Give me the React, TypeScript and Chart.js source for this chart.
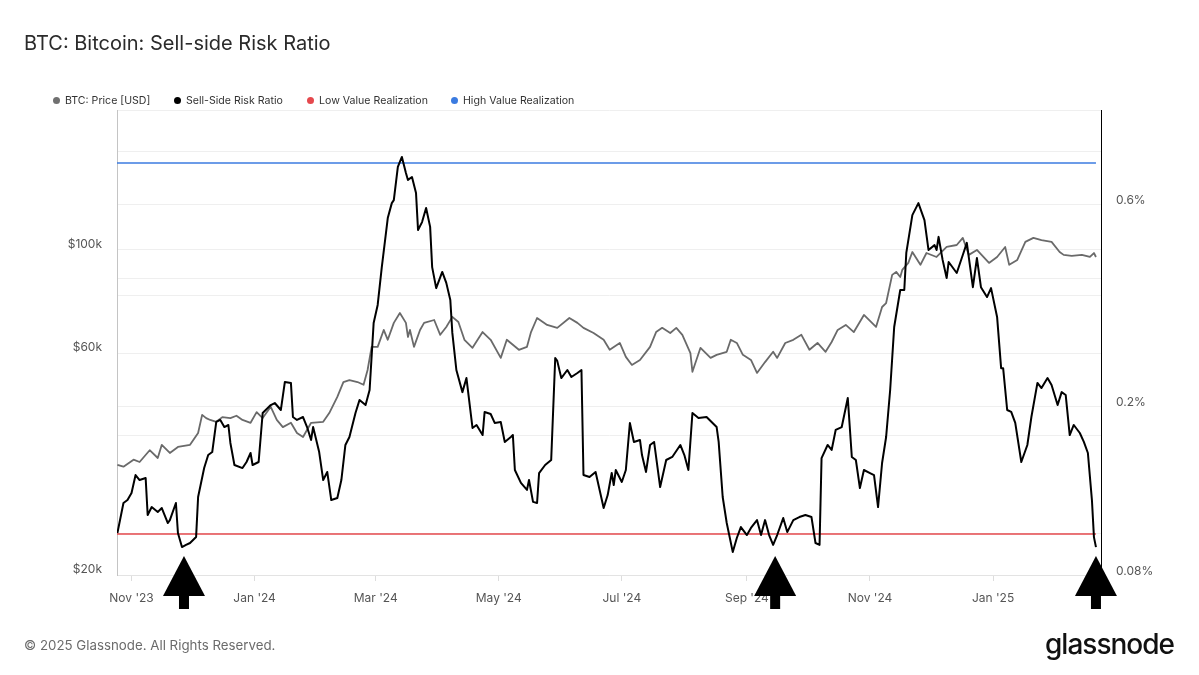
import React, { useEffect, useRef } from "react";
import { Chart, registerables } from "chart.js";

Chart.register(...registerables);

// ---- X axis (days since 1 Nov 2023) ----
const xMinDay = -7.2;
const xMaxDay = 480.5;
const monthTickDays = [0, 61, 121, 182, 243, 305, 366, 427];
const monthTickLabels = ["Nov '23", "Jan '24", "Mar '24", "May '24", "Jul '24", "Sep '24", "Nov '24", "Jan '25"];

// ---- Y axes ----
const priceTicks = [20000, 40000, 60000, 80000, 100000, 200000];
const priceTickLabels = ["$20k", "", "$60k", "", "$100k", ""];
const ratioTicks = [0.08, 0.1, 0.2, 0.4, 0.6, 0.8];
const ratioTickLabels = ["0.08%", "", "0.2%", "", "0.6%", ""];

// ---- BTC price (USD) ----
const priceDays = [-7, -4, 1, 4, 9, 13, 15, 19, 23, 29, 33, 35, 37, 39, 42, 45, 49, 52, 55, 59, 62, 65, 69, 72, 75, 79, 82, 85, 89, 95, 98, 102, 105, 108, 112, 115, 117, 119, 122, 125, 127, 130, 133, 136, 137, 138, 140, 143, 145, 150, 153, 156, 159, 162, 165, 169, 174, 178, 183, 186, 192, 196, 198, 201, 206, 211, 217, 221, 224, 229, 234, 237, 242, 245, 248, 252, 257, 260, 263, 267, 270, 273, 277, 278, 282, 287, 290, 295, 297, 300, 303, 307, 310, 314, 318, 320, 324, 328, 332, 336, 340, 344, 347, 350, 354, 358, 363, 369, 372, 374, 377, 379, 381, 382, 385, 387, 391, 394, 399, 404, 409, 412, 415, 419, 425, 429, 433, 435, 439, 443, 447, 451, 456, 460, 462, 466, 471, 475, 477, 478];
const priceValues = [34500, 34200, 35400, 35000, 37100, 35700, 38100, 36600, 37700, 38100, 40400, 44200, 43500, 43100, 42700, 43700, 43500, 44000, 43100, 42500, 44800, 43500, 46000, 43100, 41600, 42500, 40400, 39600, 42500, 42700, 44600, 48300, 52000, 52500, 52000, 51300, 55200, 61900, 61900, 67300, 64100, 69700, 73200, 69700, 65000, 67300, 61900, 67300, 69700, 70700, 65700, 68300, 71800, 70000, 64100, 61600, 66600, 64100, 58600, 64100, 61000, 61900, 66600, 71400, 69000, 68000, 71400, 69700, 68000, 66300, 64100, 61000, 63100, 58900, 56600, 58000, 61900, 66600, 68000, 66300, 68000, 65700, 60000, 54700, 61600, 58600, 59500, 60400, 64100, 63100, 59500, 58000, 54400, 57400, 60400, 58600, 63100, 64100, 65700, 61000, 63100, 60400, 63400, 67300, 69000, 66600, 72500, 68300, 75400, 76900, 88400, 89700, 87500, 90600, 93800, 99000, 92900, 98500, 96600, 101500, 102500, 106200, 97600, 100000, 93800, 96600, 101500, 92900, 95200, 104100, 106200, 105000, 104100, 99000, 97600, 97100, 97600, 96600, 98500, 96600];

// ---- Sell-side risk ratio (%) ----
const ssrDays = [-7, -4, -2, 0, 2, 4, 7, 8, 10, 13, 15, 18, 19, 22, 23, 25, 27, 29, 32, 33, 36, 38, 40, 42, 44, 46, 48, 49, 51, 55, 57, 59, 60, 63, 65, 69, 71, 74, 76, 79, 80, 82, 85, 87, 89, 90, 93, 95, 97, 99, 102, 104, 106, 108, 111, 113, 116, 118, 120, 122, 124, 127, 129, 130, 132, 134, 136, 137, 139, 141, 142, 144, 146, 148, 149, 151, 154, 156, 158, 159, 161, 164, 166, 169, 171, 174, 175, 178, 180, 183, 185, 188, 189, 190, 193, 196, 197, 199, 201, 202, 205, 208, 210, 211, 213, 216, 218, 221, 223, 224, 227, 230, 232, 234, 236, 238, 239, 240, 243, 245, 247, 249, 252, 253, 255, 257, 259, 262, 265, 268, 272, 274, 276, 278, 281, 285, 288, 290, 291, 293, 295, 298, 300, 302, 305, 307, 310, 312, 314, 316, 318, 320, 323, 325, 328, 331, 334, 337, 339, 341, 342, 345, 347, 349, 352, 355, 357, 359, 361, 363, 366, 368, 370, 372, 374, 376, 378, 381, 383, 384, 387, 390, 393, 395, 398, 399, 400, 402, 404, 405, 409, 412, 414, 417, 419, 421, 424, 426, 429, 431, 432, 434, 436, 438, 441, 444, 446, 449, 451, 454, 456, 459, 461, 463, 465, 467, 470, 472, 474, 476, 477, 478];
const ssrValues = [0.1005, 0.1183, 0.1202, 0.1249, 0.1377, 0.134, 0.1355, 0.1108, 0.1157, 0.1127, 0.1151, 0.1061, 0.1078, 0.1183, 0.1005, 0.0931, 0.0942, 0.0952, 0.0983, 0.1222, 0.143, 0.1535, 0.156, 0.1837, 0.1857, 0.1787, 0.1807, 0.1639, 0.1454, 0.143, 0.1478, 0.1552, 0.1454, 0.1478, 0.1929, 0.2014, 0.2036, 0.196, 0.2283, 0.2271, 0.1887, 0.1857, 0.1887, 0.1787, 0.1666, 0.1787, 0.156, 0.134, 0.14, 0.1202, 0.1215, 0.134, 0.1621, 0.1693, 0.1929, 0.207, 0.2014, 0.2185, 0.3145, 0.3468, 0.424, 0.556, 0.603, 0.613, 0.734, 0.775, 0.71, 0.684, 0.695, 0.637, 0.521, 0.544, 0.587, 0.53, 0.426, 0.38, 0.415, 0.391, 0.3563, 0.298, 0.2436, 0.216, 0.2332, 0.1778, 0.1807, 0.1711, 0.1939, 0.1918, 0.1827, 0.1837, 0.1648, 0.1693, 0.1711, 0.1415, 0.1319, 0.127, 0.134, 0.119, 0.1183, 0.1392, 0.1454, 0.1494, 0.26, 0.256, 0.2332, 0.2436, 0.2345, 0.2397, 0.2436, 0.1377, 0.1362, 0.14, 0.127, 0.1151, 0.1235, 0.1392, 0.1304, 0.1415, 0.1326, 0.1415, 0.1827, 0.1648, 0.1666, 0.1535, 0.14, 0.1621, 0.1648, 0.129, 0.1494, 0.1519, 0.1621, 0.1535, 0.1415, 0.1929, 0.1877, 0.1887, 0.1827, 0.1787, 0.1648, 0.1222, 0.1061, 0.0906, 0.0978, 0.1038, 0.0994, 0.1033, 0.1078, 0.0994, 0.1078, 0.0994, 0.0942, 0.0994, 0.109, 0.101, 0.1078, 0.1096, 0.1108, 0.1096, 0.0952, 0.0942, 0.151, 0.1621, 0.1578, 0.1759, 0.1787, 0.2092, 0.1519, 0.1494, 0.1283, 0.1415, 0.1392, 0.1377, 0.1157, 0.147, 0.1693, 0.2185, 0.3077, 0.3762, 0.3762, 0.46, 0.565, 0.603, 0.55, 0.4675, 0.48, 0.4675, 0.502, 0.443, 0.4015, 0.438, 0.4126, 0.455, 0.486, 0.382, 0.4475, 0.382, 0.362, 0.38, 0.325, 0.246, 0.246, 0.196, 0.194, 0.1827, 0.1478, 0.1621, 0.1887, 0.2271, 0.2209, 0.2332, 0.2245, 0.2014, 0.216, 0.2127, 0.1711, 0.1807, 0.173, 0.1648, 0.1552, 0.1202, 0.0983, 0.0931];

// ---- Thresholds (%) ----
const bandDays = [-7.2, 478];
const lowValueRealization = 0.1;
const highValueRealization = 0.75;

// ---- Annotation arrows (days) ----
const arrowDays = [26, 319, 478];

const legendItems = [
  { label: "BTC: Price [USD]", color: "#707070", left: 53 },
  { label: "Sell-Side Risk Ratio", color: "#000000", left: 174 },
  { label: "Low Value Realization", color: "#e5484d", left: 307 },
  { label: "High Value Realization", color: "#3b7be0", left: 451 },
];

const arrowPlugin = {
  id: "arrowAnnotations",
  afterDraw(chart: any) {
    const { ctx, chartArea, scales } = chart;
    ctx.save();
    ctx.fillStyle = "#000";
    arrowDays.forEach((d) => {
      const x = scales.x.getPixelForValue(d);
      const tip = chartArea.bottom - 19;
      const base = chartArea.bottom + 21;
      ctx.beginPath();
      ctx.moveTo(x, tip);
      ctx.lineTo(x + 21, base);
      ctx.lineTo(x - 21, base);
      ctx.closePath();
      ctx.fill();
      ctx.fillRect(x - 5, base - 1, 10, 14);
    });
    ctx.restore();
  },
};

export default function App() {
  const ref = useRef<HTMLCanvasElement>(null);

  useEffect(() => {
    const prevMargin = document.body.style.margin;
    document.body.style.margin = "0";
    const tickFont = { family: "Inter", size: 12 };
    const chart = new Chart(ref.current as HTMLCanvasElement, {
      type: "line",
      data: {
        datasets: [
          {
            label: "Sell-Side Risk Ratio",
            data: ssrDays.map((d, i) => ({ x: d, y: ssrValues[i] })),
            yAxisID: "yRatio",
            borderColor: "#000000",
            borderWidth: 2,
            pointRadius: 0,
            tension: 0,
            borderJoinStyle: "round",
          },
          {
            label: "Low Value Realization",
            data: bandDays.map((d) => ({ x: d, y: lowValueRealization })),
            yAxisID: "yRatio",
            borderColor: "#e5484d",
            borderWidth: 1.5,
            pointRadius: 0,
          },
          {
            label: "High Value Realization",
            data: bandDays.map((d) => ({ x: d, y: highValueRealization })),
            yAxisID: "yRatio",
            borderColor: "#3b7be0",
            borderWidth: 1.5,
            pointRadius: 0,
          },
          {
            label: "BTC: Price [USD]",
            data: priceDays.map((d, i) => ({ x: d, y: priceValues[i] })),
            yAxisID: "yPrice",
            borderColor: "#6a6a6a",
            borderWidth: 1.8,
            pointRadius: 0,
            tension: 0,
            borderJoinStyle: "round",
          },
        ],
      },
      options: {
        responsive: false,
        animation: false,
        devicePixelRatio: 1,
        layout: { padding: { top: 110, left: 0, right: 0, bottom: 0 } },
        plugins: { legend: { display: false }, tooltip: { enabled: false }, title: { display: false } },
        scales: {
          x: {
            type: "linear",
            min: xMinDay,
            max: xMaxDay,
            afterBuildTicks: (axis: any) => {
              axis.ticks = monthTickDays.map((v) => ({ value: v }));
            },
            afterFit: (axis: any) => {
              axis.height = 100;
            },
            ticks: {
              autoSkip: false,
              maxRotation: 0,
              padding: 10,
              color: "#555",
              font: tickFont,
              callback: (value: any) => {
                const i = monthTickDays.indexOf(Number(value));
                return i >= 0 ? monthTickLabels[i] : "";
              },
            },
            grid: { drawOnChartArea: false, drawTicks: true, tickLength: 6, color: "#dddddd" },
            border: { color: "#e3e3e3" },
          },
          yPrice: {
            type: "logarithmic",
            position: "left",
            min: 20000,
            max: 200000,
            afterBuildTicks: (axis: any) => {
              axis.ticks = priceTicks.map((v) => ({ value: v }));
            },
            afterFit: (axis: any) => {
              axis.width = 117;
            },
            ticks: {
              padding: 15,
              labelOffset: -6,
              color: "#555",
              font: tickFont,
              autoSkip: false,
              callback: (value: any) => {
                const i = priceTicks.indexOf(Number(value));
                return i >= 0 ? priceTickLabels[i] : "";
              },
            },
            grid: { drawTicks: false, color: "#efefef" },
            border: { color: "#c4c4c4" },
          },
          yRatio: {
            type: "logarithmic",
            position: "right",
            min: 0.08,
            max: 1.0,
            afterBuildTicks: (axis: any) => {
              axis.ticks = ratioTicks.map((v) => ({ value: v }));
            },
            afterFit: (axis: any) => {
              axis.width = 98;
            },
            ticks: {
              padding: 15,
              labelOffset: -4,
              color: "#555",
              font: tickFont,
              autoSkip: false,
              callback: (value: any) => {
                const i = ratioTicks.indexOf(Number(value));
                return i >= 0 ? ratioTickLabels[i] : "";
              },
            },
            grid: { drawTicks: false, color: "#efefef" },
            border: { color: "#000000", width: 1 },
          },
        },
      } as any,
      plugins: [arrowPlugin],
    });
    return () => {
      chart.destroy();
      document.body.style.margin = prevMargin;
    };
  }, []);

  return (
    <div
      style={{
        position: "relative",
        width: 1199,
        height: 675,
        background: "#ffffff",
        fontFamily: "Inter, 'Noto Sans', sans-serif",
        overflow: "hidden",
      }}
    >
      <canvas ref={ref} width={1199} height={675} style={{ position: "absolute", left: 0, top: 0 }} />
      <div
        style={{
          position: "absolute",
          left: 24,
          top: 32,
          fontSize: 20,
          lineHeight: "22px",
          color: "#2b2b2b",
          whiteSpace: "nowrap",
        }}
      >
        BTC: Bitcoin: Sell-side Risk Ratio
      </div>
      {legendItems.map((it) => (
        <div
          key={it.label}
          style={{
            position: "absolute",
            left: it.left,
            top: 93,
            height: 14,
            display: "flex",
            alignItems: "center",
            whiteSpace: "nowrap",
            fontSize: 10.6,
            color: "#333",
          }}
        >
          <span
            style={{
              display: "inline-block",
              width: 7,
              height: 7,
              borderRadius: "50%",
              background: it.color,
              marginRight: 5,
            }}
          />
          <span>{it.label}</span>
        </div>
      ))}
      <div
        style={{
          position: "absolute",
          left: 24,
          top: 637,
          fontSize: 13.3,
          lineHeight: "16px",
          color: "#6b6b6b",
          whiteSpace: "nowrap",
        }}
      >
        © 2025 Glassnode. All Rights Reserved.
      </div>
      <div
        style={{
          position: "absolute",
          right: 25,
          top: 630,
          fontSize: 28,
          lineHeight: "28px",
          fontWeight: 500,
          letterSpacing: -1,
          color: "#111",
          whiteSpace: "nowrap",
        }}
      >
        glassnode
      </div>
    </div>
  );
}
